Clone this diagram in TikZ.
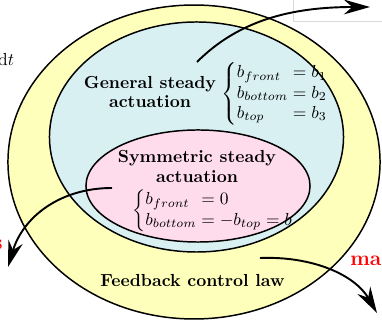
\documentclass[tikz,border=0pt]{standalone}
\usepackage{amsmath}
\usetikzlibrary{shapes.geometric,arrows.meta}
\definecolor{outerY}{RGB}{255,255,188}
\definecolor{midB}{RGB}{217,240,243}
\definecolor{innP}{RGB}{255,220,236}
\begin{document}
\begin{tikzpicture}[x=0.573pt,y=-0.573pt,
  region/.style={ellipse, draw=black, line width=0.85pt, inner sep=0},
  bt/.style={font=\bfseries, align=center, inner sep=0},
  mth/.style={anchor=west, inner sep=0},
  flow/.style={line width=1.1pt, -{Stealth[length=15pt,width=8.5pt]}},
  side/.style={text=red, font=\large\bfseries, inner sep=0}
]
\useasboundingbox (0,0) rectangle (382,320);
% faint frame top right
\draw[gray!30, line width=0.4pt] (293,-3) rectangle (392,21);
% regions
\node[region, fill=outerY, minimum width=213.2pt, minimum height=179.9pt] (outer) at (194,162) {};
\node[region, fill=midB, minimum width=168.5pt, minimum height=131.8pt] (mid) at (196.5,137) {};
\node[region, fill=innP, minimum width=128.4pt, minimum height=64.2pt] (inner) at (198,186) {};
% texts
\node[bt] (gen) at (150,92) {General steady\\[-0.8pt]actuation};
\node[mth] (gencases) at (221,94) {\renewcommand\arraystretch{0.96}$\left\{\begin{array}{@{}l@{}l@{}}
  b_{front} & {}= b_1\\
  b_{bottom} & {}= b_2\\
  b_{top} & {}= b_3
\end{array}\right.$};
\node[bt] (sym) at (197,166.5) {Symmetric steady\\[-0.8pt]actuation};
\node[mth] (symcases) at (132,211) {\renewcommand\arraystretch{0.96}$\left\{\begin{array}{@{}l@{}l@{}}
  b_{front} & {}= 0\\
  b_{bottom} & {}= -b_{top} = b
\end{array}\right.$};
\node[bt] (fb) at (192.5,281) {Feedback control law};
% partial outside labels
\node[anchor=base east, inner sep=0] (dt) at (14.5,66) {$\mathrm{d}t$};
\node[side, anchor=base east] (sl) at (3,250) {s};
\node[side, anchor=base west] (ma) at (350,266) {ma};
% connectors
\coordinate (g0) at (197,62);
\coordinate (g1) at (370,7);
\coordinate (s0) at (112,188);
\coordinate (s1) at (8,267);
\coordinate (f0) at (260,258);
\coordinate (f1) at (377,313);
\draw[flow] (g0) .. controls (238,21) and (290,7) .. (g1);
\draw[flow] (s0) .. controls (60,188) and (23,217) .. (s1);
\draw[flow] (f0) .. controls (313,256) and (355,275) .. (f1);
\end{tikzpicture}
\end{document}
